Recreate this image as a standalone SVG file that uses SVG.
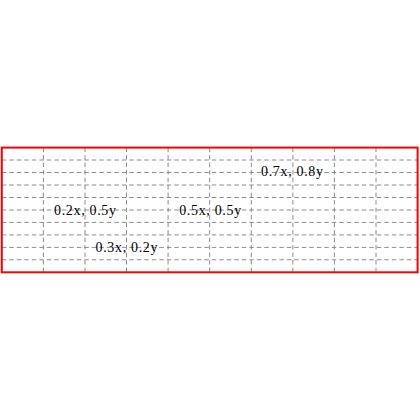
<svg xmlns="http://www.w3.org/2000/svg" width="420" height="420" viewBox="0 0 420 420">
<style>
.grid line{stroke:#808080;stroke-width:0.9;stroke-dasharray:4.5 3}
.lbl{font-family:"Liberation Serif","Times New Roman",serif;font-size:14px;fill:#000;text-anchor:middle}
</style>
<rect width="420" height="420" fill="#fff"/>
<g id="grid" class="grid">
<line x1="1.8" y1="160" x2="417.6" y2="160"/>
<line x1="1.8" y1="172.5" x2="417.6" y2="172.5"/>
<line x1="1.8" y1="185" x2="417.6" y2="185"/>
<line x1="1.8" y1="197.5" x2="417.6" y2="197.5"/>
<line x1="1.8" y1="210" x2="417.6" y2="210"/>
<line x1="1.8" y1="222.4" x2="417.6" y2="222.4"/>
<line x1="1.8" y1="234.9" x2="417.6" y2="234.9"/>
<line x1="1.8" y1="247.4" x2="417.6" y2="247.4"/>
<line x1="1.8" y1="259.8" x2="417.6" y2="259.8"/>
<line x1="43.4" y1="147.6" x2="43.4" y2="272.3"/>
<line x1="85" y1="147.6" x2="85" y2="272.3"/>
<line x1="126.5" y1="147.6" x2="126.5" y2="272.3"/>
<line x1="168.1" y1="147.6" x2="168.1" y2="272.3"/>
<line x1="209.7" y1="147.6" x2="209.7" y2="272.3"/>
<line x1="251.3" y1="147.6" x2="251.3" y2="272.3"/>
<line x1="292.9" y1="147.6" x2="292.9" y2="272.3"/>
<line x1="334.4" y1="147.6" x2="334.4" y2="272.3"/>
<line x1="376" y1="147.6" x2="376" y2="272.3"/>
</g>
<g id="frame">
<rect x="1.8" y="147.6" width="415.8" height="124.7" fill="none" stroke="#ff0000" stroke-width="2"/>
</g>
<g id="label-02-05"><text class="lbl" x="85" y="214.5" textLength="62">0.2x, 0.5y</text></g>
<g id="label-05-05"><text class="lbl" x="210.2" y="214.5" textLength="62">0.5x, 0.5y</text></g>
<g id="label-07-08"><text class="lbl" x="292" y="176" textLength="62">0.7x, 0.8y</text></g>
<g id="label-03-02"><text class="lbl" x="126.5" y="251.8" textLength="62">0.3x, 0.2y</text></g>
</svg>
